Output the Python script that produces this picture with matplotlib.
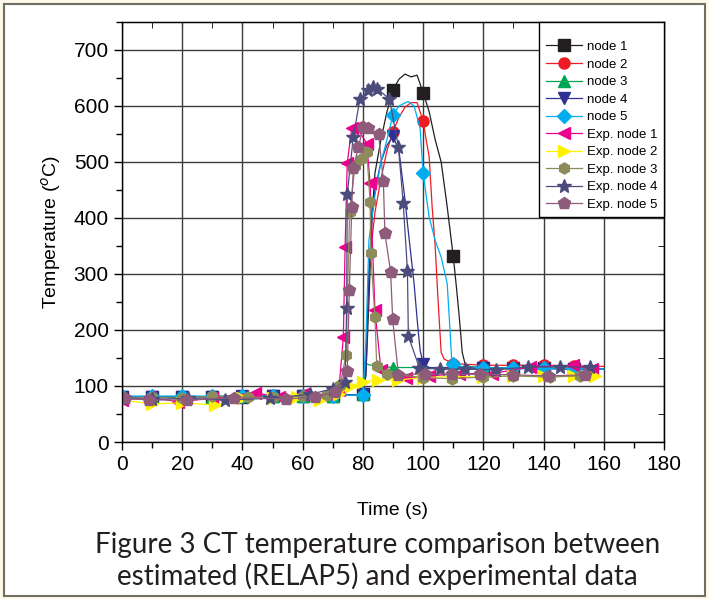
import matplotlib
matplotlib.use("Agg")
import matplotlib.pyplot as plt
from matplotlib.patches import Rectangle
from matplotlib.ticker import MultipleLocator

# ---- RELAP5 estimated node temperatures (markers every 10 s) ----
t_node1 = [0, 10, 20, 30, 40, 50, 60, 70, 75, 80, 81, 82, 83, 84, 86, 88, 90, 92, 94, 96, 98, 100,
           102, 104, 106, 108, 110, 111, 112, 113, 114, 116, 120, 130, 140, 150, 160]
T_node1 = [80, 80, 80, 81, 81, 82, 82, 83, 84, 85, 120, 250, 400, 480, 540, 590, 629, 648, 657, 652,
           655, 624, 590, 540, 500, 420, 332, 280, 224, 160, 138, 134, 133, 132, 132, 131, 130]

t_node2 = [0, 10, 20, 30, 40, 50, 60, 70, 80, 81, 82, 83, 84, 86, 88, 90, 92, 94, 96, 98, 100,
           101, 102, 103, 104, 105, 106, 107, 110, 120, 130, 140, 150, 160]
T_node2 = [80, 80, 81, 81, 82, 82, 82, 83, 85, 150, 300, 360, 410, 470, 520, 554, 580, 598, 606, 606,
           573, 540, 510, 420, 350, 250, 160, 148, 140, 137, 137, 137, 136, 135]

t_node3 = [0, 10, 20, 30, 40, 50, 60, 70, 80, 81, 82, 84, 86, 88, 90, 100, 110, 120, 130, 140, 150, 160]
T_node3 = [80, 80, 81, 81, 82, 82, 82, 83, 85, 140, 138, 136, 135, 134, 133, 133, 132, 132, 132, 131, 131, 130]

t_node4 = [0, 10, 20, 30, 40, 50, 60, 70, 80, 81, 82, 83, 84, 86, 88, 90, 92, 94, 95, 97, 98, 99,
           100, 102, 110, 120, 130, 140, 150, 160]
T_node4 = [80, 80, 81, 81, 82, 82, 82, 83, 85, 120, 300, 400, 450, 500, 530, 546, 520, 432, 380, 283,
           220, 164, 140, 133, 132, 132, 131, 131, 130, 130]

t_node5 = [0, 10, 20, 30, 40, 50, 60, 70, 80, 81, 82, 84, 86, 88, 90, 92, 95, 97, 99, 100, 102,
           104, 106, 108, 109, 109.5, 110, 112, 120, 130, 140, 150, 160]
T_node5 = [82, 82, 82, 82, 82, 82, 82, 83, 84, 180, 360, 440, 500, 540, 584, 600, 608, 600, 560, 480,
           402, 360, 330, 283, 194, 146, 140, 135, 133, 132, 132, 131, 130]

# ---- experimental thermocouple data ----
t_exp1 = [0, 9, 18.7, 30, 44.2, 52, 60.2, 68, 72, 73.5, 74.1, 74.8, 76.3, 78, 81.3, 82.4, 84, 86,
          94.3, 102, 112, 122.8, 135.5, 149.9, 156]
T_exp1 = [75, 80, 72, 78, 88, 80, 86, 85, 92, 187, 349, 498, 560, 562, 533, 462, 236, 128, 114, 118,
          122, 122, 134, 137, 130]

t_exp2 = [0, 10, 20, 31, 40, 50, 58, 65.8, 72, 76, 80.2, 85, 91.8, 100, 110, 120, 130, 140, 150, 157]
T_exp2 = [75, 68, 70, 66, 78, 78, 80, 75, 85, 100, 108, 110, 111, 115, 117, 116, 118, 118, 117, 118]

t_exp3 = [0, 10, 20, 30, 42, 50, 60, 68, 72.4, 74.4, 75.6, 77.4, 79.5, 81.3, 82.4, 82.6, 84, 84.6,
          88, 100, 109.5, 120, 130, 142, 152]
T_exp3 = [78, 80, 78, 82, 80, 80, 82, 84, 102, 155, 411, 492, 505, 518, 428, 338, 223, 136,
          122, 115, 113, 116, 118, 116, 118]

t_exp4 = [0, 10, 22, 34.2, 49.2, 62.4, 70, 74.1, 74.6, 74.8, 76.8, 79, 81.8, 83.5, 84.6, 88.8, 91.8,
          93.4, 94.8, 95.1, 98.8, 105.6, 114, 124.2, 134.9, 145.5, 155.4]
T_exp4 = [78, 76, 78, 75, 78, 85, 95, 108, 240, 442, 544, 612, 629, 634, 631, 613, 527,
          426, 306, 189, 132, 130, 130, 129, 134, 134, 134]

t_exp5 = [1, 9.1, 21.5, 37.2, 54.5, 64, 70.7, 74.8, 75.5, 76.3, 76.8, 78.5, 80.1, 81.8, 85.2, 86.8,
          87.3, 89.2, 89.9, 91.8, 100.6, 109.5, 118.9, 130, 141.6, 153.8]
T_exp5 = [78, 75, 75, 79, 77, 80, 90, 127, 271, 420, 489, 526, 562, 560, 550, 466,
          373, 304, 219, 120, 122, 121, 121, 120, 118, 120]

SIM = [
    ("node 1", t_node1, T_node1, "#231f20", "s"),
    ("node 2", t_node2, T_node2, "#ed1c24", "o"),
    ("node 3", t_node3, T_node3, "#00a651", "^"),
    ("node 4", t_node4, T_node4, "#2e3192", "v"),
    ("node 5", t_node5, T_node5, "#00aeef", "D"),
]
EXP = [
    ("Exp. node 1", t_exp1, T_exp1, "#ec008c", "<"),
    ("Exp. node 2", t_exp2, T_exp2, "#fff200", ">"),
    ("Exp. node 3", t_exp3, T_exp3, "#8d8b5c", "h"),
    ("Exp. node 4", t_exp4, T_exp4, "#4c4c7c", "*"),
    ("Exp. node 5", t_exp5, T_exp5, "#8e5b7b", "p"),
]

plt.rcParams["font.family"] = ["Liberation Sans", "DejaVu Sans"]

fig = plt.figure(figsize=(7.09, 5.99), dpi=100, facecolor="#fdf8e8")
frame = Rectangle((0.006, 0.005), 0.988, 0.988, transform=fig.transFigure,
                  facecolor="white", edgecolor="#6e6e64", linewidth=1.5, zorder=-10)
fig.add_artist(frame)

ax = fig.add_axes([0.1721, 0.2621, 0.7644, 0.7012])
ax.set_facecolor("white")

for label, t, T, color, marker in SIM:
    marks = [i for i, v in enumerate(t) if v % 10 == 0 and v <= 150]
    ms = 8 if marker != "D" else 7
    ax.plot(t, T, color=color, lw=0.9, marker=marker, ms=ms, markevery=marks,
            mec=color, mfc=color, label=label)

for label, t, T, color, marker in EXP:
    ms = {"*": 10, "h": 8, "p": 9}.get(marker, 8)
    ax.plot(t, T, color=color, lw=0.9, marker=marker, ms=ms, mec=color, mfc=color, label=label)

ax.set_xlim(0, 180)
ax.set_ylim(0, 750)
ax.xaxis.set_major_locator(MultipleLocator(20))
ax.xaxis.set_minor_locator(MultipleLocator(10))
ax.yaxis.set_major_locator(MultipleLocator(100))
ax.yaxis.set_minor_locator(MultipleLocator(50))
ax.set_yticks(range(0, 701, 100))
ax.grid(True, which="major", color="#3c3c3c", lw=1.0)
ax.set_axisbelow(True)
ax.tick_params(which="major", direction="out", length=6, width=1, labelsize=15, colors="black")
ax.tick_params(which="minor", direction="out", length=4, width=1)
for sp in ax.spines.values():
    sp.set_color("black")
    sp.set_linewidth(1)

secx = ax.secondary_xaxis("top")
secx.xaxis.set_major_locator(MultipleLocator(20))
secx.xaxis.set_minor_locator(MultipleLocator(10))
secx.tick_params(which="both", direction="in", labeltop=False, length=4)
secy = ax.secondary_yaxis("right")
secy.yaxis.set_major_locator(MultipleLocator(100))
secy.yaxis.set_minor_locator(MultipleLocator(50))
secy.tick_params(which="both", direction="in", labelright=False, length=4)

ax.set_xlabel("Time (s)", fontsize=14, labelpad=20)
ax.set_ylabel("Temperature ($^o$C)", fontsize=14, labelpad=8)

leg = ax.legend(loc="upper right", borderaxespad=0, fontsize=9.5, handlelength=2.7,
                labelspacing=0.4, fancybox=False, framealpha=1, edgecolor="black",
                borderpad=0.5, handletextpad=0.4, title=" ", title_fontsize=6)
leg.get_frame().set_linewidth(1)

fig.text(0.532, 0.064, "Figure 3 CT temperature comparison between\n"
         "estimated (RELAP5) and experimental data",
         ha="center", va="center", fontsize=20, family=["Lato", "DejaVu Sans"],
         color="#231f20", linespacing=1.2)

fig.savefig("out.png", dpi=100, facecolor=fig.get_facecolor())
